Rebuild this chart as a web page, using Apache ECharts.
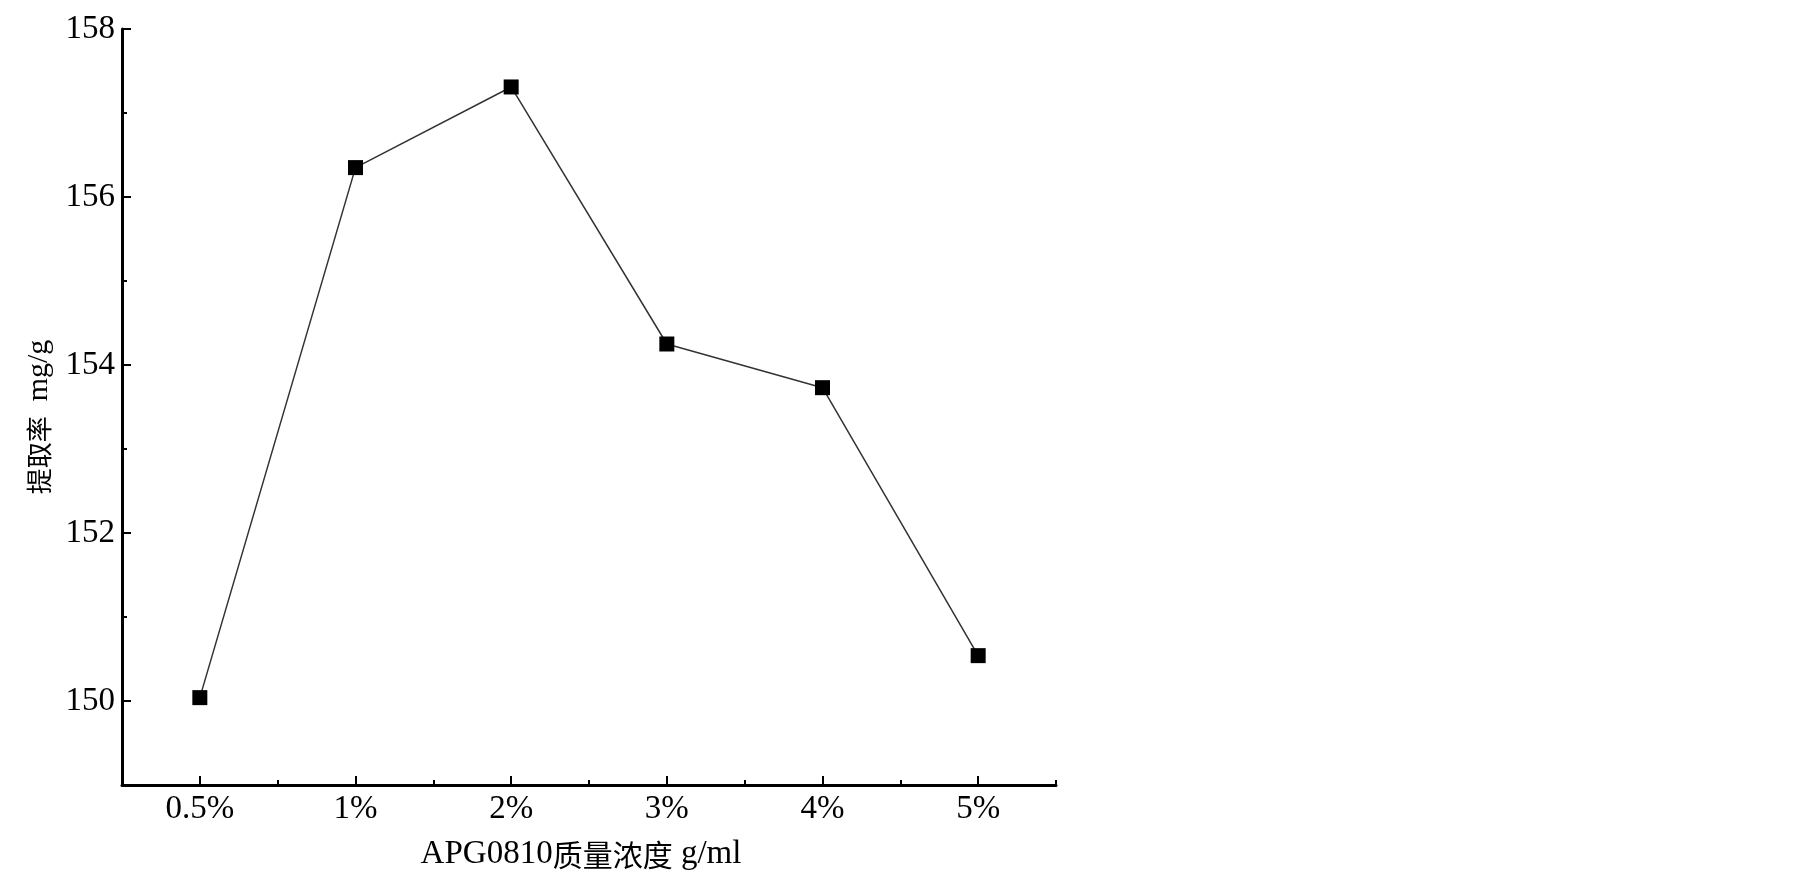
<!DOCTYPE html>
<html>
<head>
<meta charset="utf-8">
<script src="https://cdn.jsdelivr.net/npm/echarts@6/dist/echarts.min.js"></script>
<style>
html,body{margin:0;padding:0;background:#fff;}
#chart{width:1805px;height:879px;}
</style>
</head>
<body>
<div id="chart"></div>
<script>
const categories = ['0.5%', '1%', '2%', '3%', '4%', '5%'];
const extractionRate = [150.04, 156.35, 157.31, 154.25, 153.73, 150.54];
const yMajorTicks = [150, 152, 154, 156, 158];
const yMinorTicks = [151, 153, 155, 157];
const xAxisTitleLatin = 'APG0810';
const xAxisTitleCJK = '质量浓度';
const xAxisTitleUnit = ' g/ml';
const yAxisTitleCJK = '提取率';
const yAxisTitleUnit = '  mg/g';

const font = '"Liberation Serif", "Noto Sans CJK SC", serif';
const cjkFont = '"Noto Sans CJK SC", "Liberation Serif", serif';
const chart = echarts.init(document.getElementById('chart'));
chart.setOption({
  animation: false,
  backgroundColor: '#fff',
  grid: { left: 122, right: 749, top: 29, bottom: 94, containLabel: false },
  xAxis: [{
    type: 'category',
    data: categories,
    boundaryGap: true,
    position: 'bottom',
    name: '{en|' + xAxisTitleLatin + '}{cn|' + xAxisTitleCJK + '}{en|' + xAxisTitleUnit + '}',
    nameLocation: 'middle',
    nameGap: 53,
    nameTextStyle: {
      fontFamily: font, fontSize: 33, color: '#000', padding: [0, 16, 0, 0],
      rich: {
        en: { fontFamily: font, fontSize: 33, color: '#000' },
        cn: { fontFamily: cjkFont, fontSize: 30, color: '#000' }
      }
    },
    axisLine: { show: true, lineStyle: { color: '#000', width: 3 } },
    axisTick: { show: true, alignWithLabel: true, inside: true, length: 9, lineStyle: { color: '#000', width: 2 } },
    axisLabel: { fontFamily: font, fontSize: 33, color: '#000', margin: 8 },
    splitLine: { show: false }
  }, {
    type: 'category',
    data: categories,
    boundaryGap: true,
    position: 'bottom',
    offset: 0,
    axisLine: { show: false },
    axisTick: { show: true, alignWithLabel: false, inside: true, length: 5, lineStyle: { color: '#000', width: 2 } },
    axisLabel: { show: false },
    splitLine: { show: false }
  }],
  yAxis: [{
    type: 'value',
    min: 149,
    max: 158,
    position: 'left',
    name: '{cn|' + yAxisTitleCJK + '}{en|' + yAxisTitleUnit + '}',
    nameLocation: 'middle',
    nameGap: 66,
    nameTextStyle: {
      fontFamily: font, fontSize: 30, color: '#000', padding: [0, 20, 0, 0],
      rich: {
        en: { fontFamily: font, fontSize: 30, color: '#000' },
        cn: { fontFamily: cjkFont, fontSize: 26, color: '#000' }
      }
    },
    axisLine: { show: true, lineStyle: { color: '#000', width: 3 } },
    axisTick: { show: true, inside: true, length: 9, customValues: yMajorTicks, lineStyle: { color: '#000', width: 2 } },
    axisLabel: { fontFamily: font, fontSize: 33, color: '#000', margin: 7, customValues: yMajorTicks },
    splitLine: { show: false }
  }, {
    type: 'value',
    min: 149,
    max: 158,
    position: 'left',
    offset: 0,
    axisLine: { show: false },
    axisTick: { show: true, inside: true, length: 5, customValues: yMinorTicks, lineStyle: { color: '#000', width: 2 } },
    axisLabel: { show: false, customValues: yMinorTicks },
    splitLine: { show: false }
  }],
  series: [{
    type: 'line',
    xAxisIndex: 0,
    yAxisIndex: 0,
    data: extractionRate,
    symbol: 'rect',
    symbolSize: 15,
    itemStyle: { color: '#000' },
    lineStyle: { color: '#333', width: 1.5 }
  }]
});
</script>
</body>
</html>
